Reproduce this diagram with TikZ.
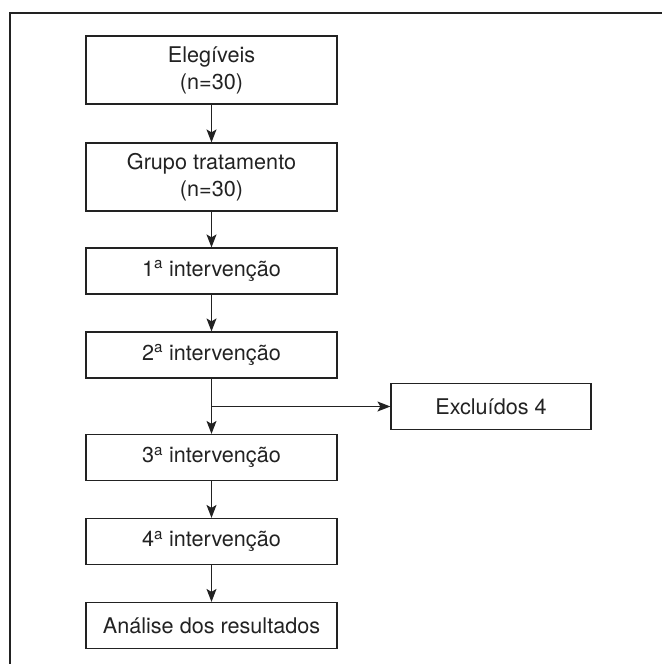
\documentclass[tikz,border=0pt]{standalone}
\usepackage{fontspec}
\setmainfont{TeX Gyre Heros}
\usetikzlibrary{arrows.meta}
\definecolor{ink}{HTML}{222222}
\begin{document}
\begin{tikzpicture}[x=1bp,y=-1bp,
  box/.style={draw=ink,line width=1.2bp,text=ink,inner sep=0pt,align=center,
    minimum width=251bp,font=\fontsize{21.7}{27}\selectfont},
  tall/.style={box,minimum height=68bp},
  short/.style={box,minimum height=46bp},
  conn/.style={draw=ink,line width=1.2bp,-{Stealth[length=13bp,width=10bp,inset=3bp]}}]
\useasboundingbox (0,0) rectangle (662,664);
\draw[ink,line width=1.2bp] (10,664) -- (10,13) -- (662,13);
\node[tall]  (b1) at (211.5,70)  {Elegíveis\\(n=30)};
\node[tall]  (b2) at (211.5,177) {Grupo tratamento\\(n=30)};
\node[short] (b3) at (211.5,271) {1\textsuperscript{a} intervenção};
\node[short] (b4) at (211.5,355) {2\textsuperscript{a} intervenção};
\node[short] (b5) at (211.5,457.5) {3\textsuperscript{a} intervenção};
\node[short] (b6) at (211.5,541.5) {4\textsuperscript{a} intervenção};
\node[short] (b7) at (211.5,625.5) {Análise dos resultados};
\node[short,minimum width=200bp] (ex) at (491,406.5) {Excluídos 4};
\coordinate (br) at (211.5,406.5);
\draw[conn] (b1) -- (b2);
\draw[conn] (b2) -- (b3);
\draw[conn] (b3) -- (b4);
\draw[conn] (b4) -- (b5);
\draw[conn] (br) -- (ex);
\draw[conn] (b5) -- (b6);
\draw[conn] (b6) -- (b7);
\end{tikzpicture}
\end{document}
